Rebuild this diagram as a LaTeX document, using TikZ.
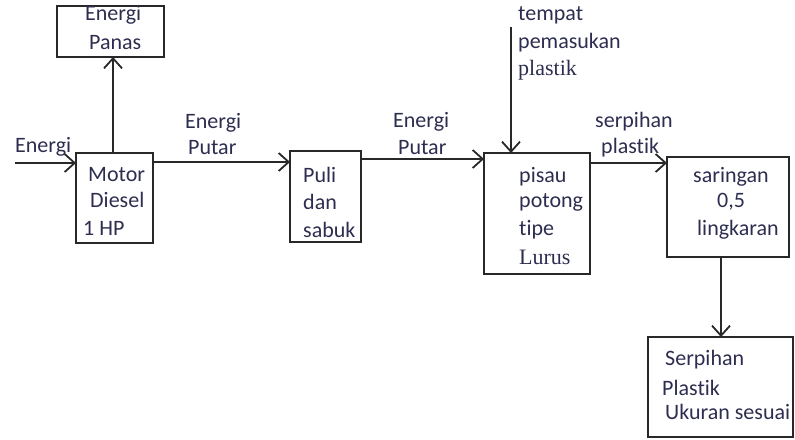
\documentclass[tikz,border=0pt]{standalone}
\usepackage{fontspec}
\setmainfont{Carlito}[Ligatures={NoCommon}]
\newfontfamily\tnr{Liberation Serif}
\usetikzlibrary{arrows.meta}
\definecolor{txt}{RGB}{45,45,80}
\definecolor{ln}{RGB}{40,40,40}
\begin{document}
\begin{tikzpicture}[x=1pt,y=-1pt,
  box/.style={draw=ln, line width=2pt, inner sep=0pt, outer sep=0pt, anchor=north west},
  lbl/.style={font=\fontsize{22}{26}\selectfont, text=txt, inner sep=0pt, anchor=west},
  arr/.style={draw=ln, line width=1.8pt, -{Straight Barb[length=10pt,width=18pt,line width=1.8pt]}}]
\useasboundingbox (0,0) rectangle (795,439);
% boxes
\node[box, minimum width=107pt, minimum height=51pt] (panas) at (57,6) {};
\node[box, minimum width=77pt, minimum height=90pt] (motor) at (76,153) {};
\node[box, minimum width=71pt, minimum height=91pt] (puli) at (290,151) {};
\node[box, minimum width=106pt, minimum height=121pt] (pisau) at (484,153) {};
\node[box, minimum width=122pt, minimum height=100pt] (saring) at (667,157) {};
\node[box, minimum width=145pt, minimum height=100pt] (serp) at (648,337) {};
% texts in boxes
\node[lbl] (t1) at (85,15) {Energi};
\node[lbl] (t2) at (89,43) {Panas};
\node[lbl] (t3) at (88,175) {Motor};
\node[lbl] (t4) at (90,200) {Diesel};
\node[lbl] (t5) at (83,228) {1 HP};
\node[lbl] (t6) at (303,175) {Puli};
\node[lbl] (t7) at (303,202) {dan};
\node[lbl] (t8) at (303,230) {sabuk};
\node[lbl] (t9) at (519,177) {pisau};
\node[lbl] (t10) at (519,202) {potong};
\node[lbl] (t11) at (519,230) {tipe};
\node[lbl, font=\tnr\fontsize{22}{26}\selectfont] (t12) at (519,257) {Lurus};
\node[lbl] (t13) at (693,177) {saringan};
\node[lbl] (t14) at (717,202) {0,5};
\node[lbl] (t15) at (697,230) {lingkaran};
\node[lbl] (t16) at (665,360) {Serpihan};
\node[lbl] (t17) at (662,388) {Plastik};
\node[lbl] (t18) at (665,412) {Ukuran sesuai};
% free labels
\node[lbl] (l1) at (15,147) {Energi};
\node[lbl] (l2) at (185,123) {Energi};
\node[lbl] (l3) at (188,148) {Putar};
\node[lbl] (l4) at (393,122) {Energi};
\node[lbl] (l5) at (398,148) {Putar};
\node[lbl] (l6) at (518,15) {tempat};
\node[lbl] (l7) at (518,43) {pemasukan};
\node[lbl, font=\tnr\fontsize{22}{26}\selectfont] (l8) at (518,70) {plastik};
\node[lbl] (l9) at (595,122) {serpihan};
\node[lbl] (l10) at (601,148) {plastik};
% connectors
\coordinate (ein) at (15,163);
\coordinate (tin) at (511,27);
\draw[arr] (ein) -- (ein -| motor.west);
\draw[arr] ([xshift=37pt]motor.north west) -- ([xshift=37pt]motor.north west |- panas.south);
\draw[arr] ([yshift=-9pt]motor.north east) -- ([yshift=-9pt]motor.north east -| puli.west);
\draw[arr] ([yshift=-8pt]puli.north east) -- ([yshift=-8pt]puli.north east -| pisau.west);
\draw[arr] (tin) -- (tin |- pisau.north);
\draw[arr] ([yshift=-10pt]pisau.north east) -- ([yshift=-10pt]pisau.north east -| saring.west);
\draw[arr] ([xshift=54pt]saring.south west) -- ([xshift=54pt]saring.south west |- serp.north);
\end{tikzpicture}
\end{document}
